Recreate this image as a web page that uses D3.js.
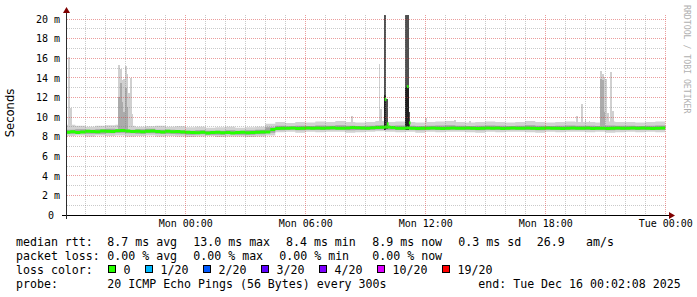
<!DOCTYPE html>
<html><head><meta charset="utf-8">
<script src="https://cdn.jsdelivr.net/npm/d3@7"></script>
<style>
html,body{margin:0;padding:0;background:#fff;}
svg{display:block;}
text{font-family:"DejaVu Sans Mono",monospace;fill:#000;}
</style></head><body>
<svg id="chart" width="697" height="297"></svg>
<script>
// ---------------- DATA ----------------
const startTime = "2025-12-14T18:00:00Z";      // first data bucket
const domainStart = "2025-12-14T18:02:08Z";    // left edge of graph
const domainEnd = "2025-12-16T00:02:08Z";      // right edge of graph
const yMaxValue = 20;                          // top labelled value (ms)

const medianStepMin = 15;
// median rtt (ms), one value per 15 minutes
const median = [
  8.45,8.50,8.42,8.48,8.55,8.52,8.50,8.58,8.55,8.53,8.60,8.62,
  8.57,8.52,8.55,8.50,8.54,8.58,8.52,8.48,8.55,8.50,8.53,8.47,
  8.45,8.42,8.40,8.44,8.38,8.42,8.45,8.40,8.43,8.38,8.41,8.45,
  8.40,8.42,8.44,8.46,8.48,8.72,
  8.82,8.86,8.84,8.88,8.83,8.86,8.89,8.84,8.87,8.85,8.88,8.91,
  8.86,8.84,8.89,8.93,8.91,8.88,8.86,8.90,8.94,8.96,8.98,8.92,
  8.86,8.84,8.88,8.86,8.83,8.86,8.84,8.88,8.86,8.82,8.85,8.87,
  8.84,8.86,8.89,8.85,8.83,8.86,8.88,8.84,8.87,8.82,8.85,8.88,
  8.86,8.84,8.87,8.85,8.83,8.86,8.89,8.84,8.86,8.82,8.85,8.88,
  8.84,8.86,8.88,8.83,8.86,8.85,8.82,8.86,8.88,8.84,8.86,8.87,
  8.84,8.88,8.85,8.83,8.86,8.89
];

const smokeStepMin = 30;
// outer smoke (all pings) and inner smoke (dense pings), ms, per 30 minutes
const smokeLo = [
  8.05,8.10,8.00,8.10,8.05,8.10,8.00,8.05,8.10,8.00,8.05,8.00,7.95,8.00,8.05,7.95,8.00,8.00,7.95,8.00,8.10,
  8.45,8.50,8.40,8.50,8.45,8.50,8.50,8.40,8.45,8.50,
  8.55,8.50,8.45,8.50,8.40,8.50,8.45,8.50,8.50,8.45,
  8.40,8.50,8.45,8.50,8.50,8.45,8.40,8.50,8.45,8.50,
  8.50,8.45,8.50,8.40,8.45,8.50,8.45,8.50,8.45
];
const smokeHi = [
  9.20,9.10,9.00,9.10,9.15,9.20,9.10,9.00,9.05,9.10,9.00,9.05,8.95,9.00,8.90,8.95,9.00,8.90,8.95,9.00,9.30,
  9.50,9.40,9.50,9.45,9.55,9.50,9.60,9.50,9.45,9.50,
  9.60,9.50,9.55,9.50,9.45,9.50,9.55,9.60,9.50,9.45,
  9.50,9.55,9.50,9.45,9.50,9.60,9.50,9.45,9.50,9.55,
  9.50,9.50,9.45,9.55,9.50,9.50,9.45,9.50,9.55
];
const coreLo = [
  8.30,8.35,8.30,8.30,8.35,8.40,8.35,8.30,8.35,8.30,8.30,8.25,8.20,8.25,8.20,8.20,8.25,8.20,8.20,8.25,8.40,
  8.65,8.70,8.65,8.70,8.68,8.70,8.72,8.65,8.68,8.70,
  8.72,8.70,8.68,8.70,8.65,8.70,8.68,8.70,8.70,8.68,
  8.65,8.70,8.68,8.70,8.70,8.68,8.65,8.70,8.68,8.70,
  8.70,8.68,8.70,8.65,8.68,8.70,8.68,8.70,8.68
];
const coreHi = [
  8.70,8.75,8.70,8.75,8.80,8.75,8.70,8.75,8.80,8.70,8.70,8.65,8.60,8.65,8.60,8.60,8.65,8.60,8.65,8.70,8.95,
  9.10,9.05,9.10,9.08,9.12,9.10,9.15,9.10,9.08,9.10,
  9.15,9.10,9.12,9.10,9.08,9.10,9.12,9.15,9.10,9.08,
  9.10,9.12,9.10,9.08,9.10,9.15,9.10,9.08,9.10,9.12,
  9.10,9.10,9.08,9.12,9.10,9.10,9.08,9.10,9.12
];

// individual 5-minute smoke spikes: hours after startTime, low/high (ms), density level (1 sparse .. 4 dense)
const spikeStepMin = 5;
const spikeHour  = [0.15,0.23, 2.65,2.73,2.82,2.90,2.98,3.07,3.15,3.23,3.32, 2.65,2.73,2.82,2.90,2.98,3.07,
                    14.30, 15.67,15.75, 15.95,16.03,15.95, 17.00,17.08,17.17,17.00,17.08, 18.00,19.45,20.20,
                    25.55,25.80,25.97,26.17, 26.75,26.83,26.92,27.00,27.08,27.25,27.33, 26.75,26.83,26.92];
const spikeLow   = [8.9,8.9, 8.9,8.9,8.9,8.9,8.9,8.9,8.9,8.9,8.9, 8.7,8.7,8.7,8.7,8.7,8.7,
                    9.3, 9.3,9.3, 9.0,8.8,8.7, 9.0,9.0,8.8,8.7,8.7, 9.3,9.3,9.3,
                    9.3,9.3,9.3,9.3, 9.2,9.2,9.2,9.2,9.2,9.2,9.2, 9.0,9.0,9.0];
const spikeHigh  = [16.1,10.9, 15.3,14.9,13.8,13.9,15.2,14.4,12.5,14.0,10.3, 12.0,13.5,11.5,10.5,13.0,11.0,
                    10.1, 15.4,10.8, 20.4,11.8,12.2, 20.4,20.4,10.5,13.1,13.0, 9.9,9.7,9.6,
                    10.1,11.3,9.8,9.6, 14.7,14.4,14.1,13.9,10.4,14.6,10.6, 13.9,13.8,10.5];
const spikeLevel = [1,1, 1,1,1,1,1,1,1,1,1, 2,2,2,2,2,2,
                    1, 1,1, 3,3,4, 3,3,3,4,4, 1,1,1,
                    1,1,1,1, 1,1,1,1,1,1,1, 2,2,2];

// median excursions (hours after startTime, ms)
const medSpikeHour = [15.97, 16.08, 17.08, 17.18];
const medSpikeVal  = [11.8, 9.3, 13.1, 9.4];

// axes
const yTicks = [0,2,4,6,8,10,12,14,16,18,20];
const yTickLabels = ["0","2 m","4 m","6 m","8 m","10 m","12 m","14 m","16 m","18 m","20 m"];
const xTicks = ["2025-12-15T00:00:00Z","2025-12-15T06:00:00Z","2025-12-15T12:00:00Z","2025-12-15T18:00:00Z","2025-12-16T00:00:00Z"];
const yAxisTitle = "Seconds";
const watermark = "RRDTOOL / TOBI OETIKER";

// legend
const rttLabel = "median rtt:";
const rttStats = ["8.7 ms avg","13.0 ms max","8.4 ms min","8.9 ms now","0.3 ms sd","26.9","am/s"];
const lossLabel = "packet loss:";
const lossStats = ["0.00 % avg","0.00 % max","0.00 % min","0.00 % now"];
const colorLabel = "loss color:";
const lossNames = ["0","1/20","2/20","3/20","4/20","10/20","19/20"];
const lossColors = ["#26ff00","#00b8ff","#0059ff","#5e00ff","#7e00ff","#dd00ff","#ff0000"];
const probeLabel = "probe:";
const probeText = "20 ICMP Echo Pings (56 Bytes) every 300s";
const endText = "end: Tue Dec 16 00:02:08 2025";

// ---------------- DRAWING ----------------
const svg = d3.select("#chart");
const parse = d3.isoParse;
const t0 = parse(startTime);
const MIN = 60e3, HOUR = 3600e3;
const at = h => new Date(+t0 + h * HOUR);

const x = d3.scaleUtc().domain([parse(domainStart), parse(domainEnd)]).range([66, 666]);
const y = d3.scaleLinear().domain([0, yMaxValue]).range([215, 19]);
const snap = v => Math.floor(v) + 0.5;

svg.append("defs").append("clipPath").attr("id", "plot")
  .append("rect").attr("x", 67).attr("y", 10).attr("width", 600).attr("height", 205);
const plot = svg.append("g").attr("clip-path", "url(#plot)");

function stepPts(arr, stepMin) {
  const pts = arr.map((v, i) => ({ t: new Date(+t0 + i * stepMin * MIN), i }));
  pts.push({ t: new Date(+t0 + arr.length * stepMin * MIN), i: arr.length - 1 });
  return pts;
}
const smokePts = stepPts(smokeLo, smokeStepMin);
const bandArea = (lo, hi) => d3.area().curve(d3.curveStepAfter)
  .x(d => x(d.t)).y0(d => y(lo[d.i])).y1(d => y(hi[d.i]));

plot.append("path").attr("d", bandArea(smokeLo, smokeHi)(smokePts)).attr("fill", "#d2d2d2");
plot.append("path").attr("d", bandArea(coreLo, coreHi)(smokePts)).attr("fill", "#a2a2a2");

const levelColor = { 1: "#d0d0d0", 2: "#ababab", 3: "#505050", 4: "#202020" };
const spikes = spikeHour.map((h, k) => ({ h, lo: spikeLow[k], hi: spikeHigh[k], lv: spikeLevel[k] }))
  .sort((a, b) => a.lv - b.lv);
plot.selectAll("rect.spike").data(spikes).join("rect").attr("class", "spike")
  .attr("x", d => x(at(d.h)))
  .attr("width", d => x(new Date(+at(d.h) + spikeStepMin * MIN)) - x(at(d.h)))
  .attr("y", d => y(d.hi))
  .attr("height", d => y(d.lo) - y(d.hi))
  .attr("fill", d => levelColor[d.lv])
  .attr("shape-rendering", "crispEdges");

const medPts = stepPts(median, medianStepMin);
plot.append("path")
  .attr("d", d3.area().curve(d3.curveStepAfter).x(d => x(d.t))
    .y0(d => y(median[d.i]) + 1.5).y1(d => y(median[d.i]) - 1.5)(medPts))
  .attr("fill", lossColors[0]);
plot.selectAll("rect.medspike").data(medSpikeHour.map((h, k) => ({ h, v: medSpikeVal[k] })))
  .join("rect").attr("class", "medspike")
  .attr("x", d => x(at(d.h)))
  .attr("width", d => x(new Date(+at(d.h) + spikeStepMin * MIN)) - x(at(d.h)))
  .attr("y", d => y(d.v) - 1.5).attr("height", 3)
  .attr("fill", lossColors[0]);

// grid (drawn over the data, semi-transparent like rrdtool)
const grid = svg.append("g").attr("shape-rendering", "crispEdges").attr("stroke-dasharray", "1,1");
const minorColor = "rgba(128,128,128,0.42)";
const majorColor = "rgba(215,60,60,0.5)";
const minorY = d3.range(1, yMaxValue + 1).filter(v => v % 2 !== 0);
const majorY = yTicks.filter(v => v > 0);
grid.selectAll("line.hmin").data(minorY).join("line")
  .attr("x1", 67).attr("x2", 667).attr("y1", d => snap(y(d))).attr("y2", d => snap(y(d)))
  .attr("stroke", minorColor);
const hours = d3.utcHour.range(x.domain()[0], x.domain()[1]);
const majorX = xTicks.map(parse);
grid.selectAll("line.vmin").data(hours.filter(h => h.getUTCHours() % 6 !== 0)).join("line")
  .attr("x1", d => snap(x(d))).attr("x2", d => snap(x(d))).attr("y1", 15).attr("y2", 215)
  .attr("stroke", minorColor);
grid.selectAll("line.hmaj").data(majorY).join("line")
  .attr("x1", 67).attr("x2", 667).attr("y1", d => snap(y(d))).attr("y2", d => snap(y(d)))
  .attr("stroke", majorColor);
grid.selectAll("line.vmaj").data(majorX).join("line")
  .attr("x1", d => snap(x(d))).attr("x2", d => snap(x(d))).attr("y1", 15).attr("y2", 215)
  .attr("stroke", majorColor);

// axes lines and arrows
const ax = svg.append("g").attr("shape-rendering", "crispEdges");
ax.append("line").attr("x1", 62).attr("x2", 670).attr("y1", snap(y(0))).attr("y2", snap(y(0))).attr("stroke", "#000");
ax.append("line").attr("x1", 66.5).attr("x2", 66.5).attr("y1", 12).attr("y2", 219).attr("stroke", "#2c2c2c");
svg.append("path").attr("d", "M63,13L70,13L66.5,7Z").attr("fill", "#7f0000");
svg.append("path").attr("d", "M669,212L669,219L675,215.5Z").attr("fill", "#7f0000");

// tick labels via d3 axes
const xAxis = d3.axisBottom(x).tickValues(majorX).tickFormat(d3.utcFormat("%a %H:%M"))
  .tickSize(0).tickPadding(5);
const gx = svg.append("g").attr("transform", "translate(0,215)").call(xAxis);
gx.select(".domain").remove();
gx.selectAll("text").attr("font-family", "DejaVu Sans Mono").attr("font-size", 10).attr("fill", "#000");

const yAxis = d3.axisLeft(y).tickValues(yTicks).tickFormat((d, i) => yTickLabels[i])
  .tickSize(0).tickPadding(6);
const gy = svg.append("g").attr("transform", "translate(66,0)").call(yAxis);
gy.select(".domain").remove();
gy.selectAll("text").attr("font-family", "DejaVu Sans Mono").attr("font-size", 10).attr("fill", "#000")
  .attr("dx", (d, i) => yTickLabels[i].indexOf(" ") < 0 ? -6 : 0);

// titles
svg.append("text").attr("transform", "translate(13.5,113) rotate(-90)")
  .attr("text-anchor", "middle").attr("font-size", 11.6)
  .style("font-family", "'DejaVu Sans'").text(yAxisTitle);
svg.append("text").attr("transform", "translate(684,5) rotate(90)")
  .attr("font-size", 8.2).style("fill", "#b0b0b0").text(watermark);

// legend
const lg = svg.append("g").attr("font-size", 11.6).attr("xml:space", "preserve");
const rowY = [245.5, 259.5, 273.5, 287.5];
const put = (s, xx, yy) => lg.append("text").attr("x", xx).attr("y", yy).text(s);
put(rttLabel, 16, rowY[0]);
[107.3, 193.3, 286, 372.3, 458.3, 536.7, 586].forEach((xx, i) => put(rttStats[i], xx, rowY[0]));
put(lossLabel, 16, rowY[1]);
[107.3, 193.3, 279.3, 372.3].forEach((xx, i) => put(lossStats[i], xx, rowY[1]));
put(colorLabel, 16, rowY[2]);
const boxX = [108.5, 145.5, 203.5, 261.5, 319.5, 377.5, 442.5];
lossNames.forEach((n, i) => {
  lg.append("rect").attr("x", boxX[i]).attr("y", 265.5).attr("width", 7).attr("height", 7)
    .attr("fill", lossColors[i]).attr("stroke", "#000").attr("stroke-width", 1);
  put(n, boxX[i] + 15, rowY[2]);
});
put(probeLabel, 16, rowY[3]);
put(probeText, 107.3, rowY[3]);
put(endText, 478.3, rowY[3]);
</script>
</body></html>
